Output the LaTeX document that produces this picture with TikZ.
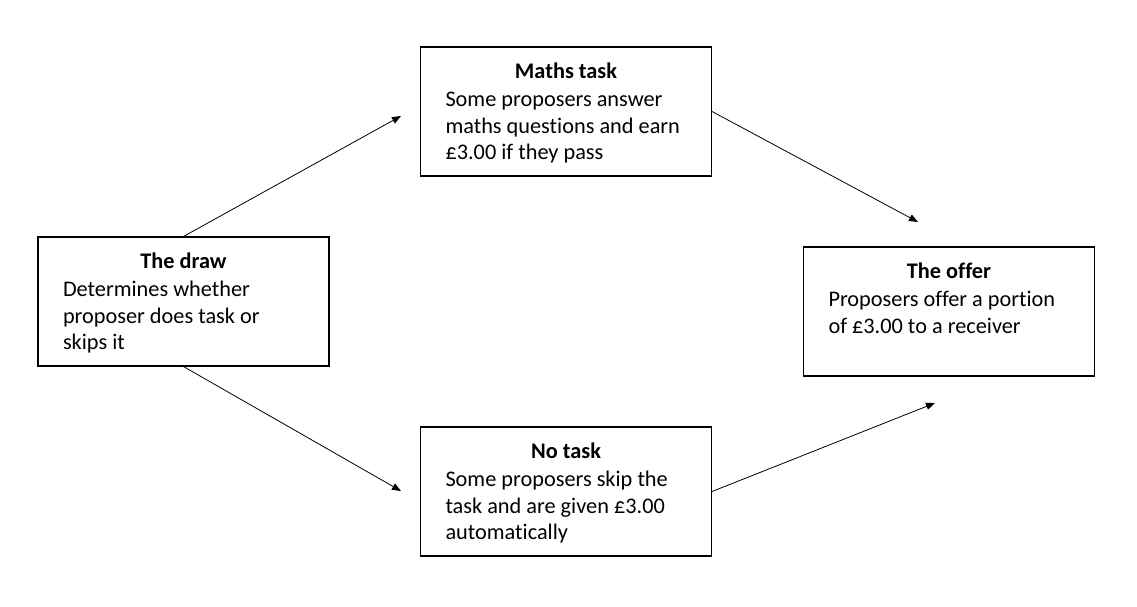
\documentclass[tikz,border=0pt]{standalone}
\usepackage{fontspec}
\setmainfont{Carlito}[Ligatures=NoCommon]
\usetikzlibrary{arrows.meta}
\tikzset{
  stagebox/.style={draw, line width=1.1pt, inner sep=0pt, font=\fontsize{22.3}{26.5}\selectfont},
  flow/.style={line width=0.8pt, -{Triangle[length=9pt,width=7pt]}}
}
\newcommand{\stagetext}[2]{\parbox[c][129pt][t]{291pt}{\vspace*{15.5pt}\centering\textbf{#1}\par\vspace{2pt}\raggedright\leftskip=25pt #2\par}}
\begin{document}
\begin{tikzpicture}[x=1pt,y=-1pt]
\useasboundingbox (0,0) rectangle (1137,607);
\node[stagebox] (draw) at (183.5,301.5) {\stagetext{The draw}{Determines whether\\proposer does task or\\skips it}};
\node[stagebox] (maths) at (566,111.5) {\stagetext{Maths task}{Some proposers answer\\maths questions and earn\\£3.00 if they pass}};
\node[stagebox] (notask) at (566,491.5) {\stagetext{No task}{Some proposers skip the\\task and are given £3.00\\automatically}};
\node[stagebox] (offer) at (949,311.5) {\stagetext{The offer}{Proposers offer a portion\\of £3.00 to a receiver}};
\coordinate (e1) at (401,116);
\coordinate (e2) at (918,222);
\coordinate (e3) at (401,491);
\coordinate (e4) at (935,403);
\draw[flow] (draw.north) -- (e1);
\draw[flow] (maths.east) -- (e2);
\draw[flow] (draw.south) -- (e3);
\draw[flow] (notask.east) -- (e4);
\end{tikzpicture}
\end{document}
